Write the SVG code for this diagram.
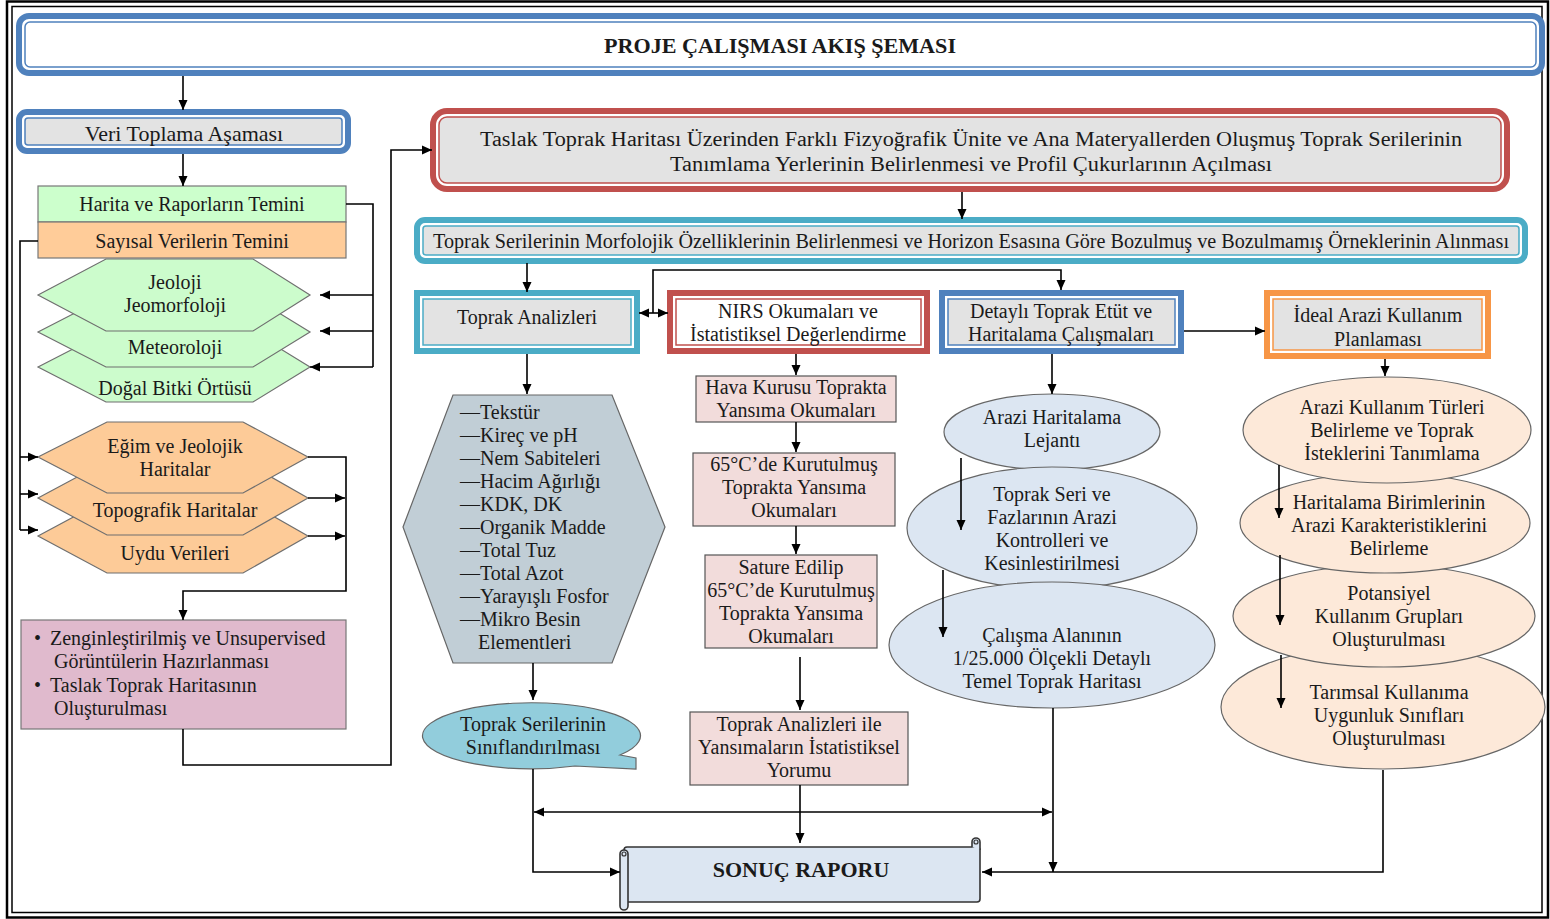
<svg xmlns="http://www.w3.org/2000/svg" width="1550" height="919" viewBox="0 0 1550 919">
<style>
.t{font-family:"Liberation Serif","Times New Roman",serif;font-size:20px;fill:#1a1a1a;text-anchor:middle}
.tl{font-family:"Liberation Serif","Times New Roman",serif;font-size:20px;fill:#1a1a1a;text-anchor:start}
.b{font-weight:bold}
.c{fill:none;stroke:#000;stroke-width:1.6}
.a{marker-end:url(#ah)}
.aa{marker-start:url(#ah);marker-end:url(#ah)}
.ob{fill:#fff;stroke:#4F81BD;stroke-width:6}
.ib{fill:#E3E3E3;stroke:#4F81BD;stroke-width:1.5}
.or{fill:#fff;stroke:#C0504D;stroke-width:6}
.ir{fill:#E3E3E3;stroke:#C0504D;stroke-width:1.5}
.ot{fill:#fff;stroke:#4BACC6;stroke-width:6}
.it{fill:#E3E3E3;stroke:#4BACC6;stroke-width:1.5}
.oo{fill:#fff;stroke:#F79646;stroke-width:6}
.io{fill:#E3E3E3;stroke:#F79646;stroke-width:1.5}
.sh{stroke:#6f6f6f;stroke-width:1.2}
.gh{fill:#CCFCCC}
.oh{fill:#FDCB98}
.pk{fill:#F2DCDB;stroke:#555;stroke-width:1.2}
.be{fill:#DCE6F2;stroke:#666;stroke-width:1.2}
.oe{fill:#FDE9D9;stroke:#666;stroke-width:1.2}
</style>
<defs>
<marker id="ah" viewBox="0 0 10 10" refX="10" refY="5" markerWidth="10" markerHeight="10" markerUnits="userSpaceOnUse" orient="auto-start-reverse"><path d="M0,0.5 L10,5 L0,9.5 Z" fill="#000"/></marker>
</defs>
<rect x="0" y="0" width="1550" height="919" fill="#fff"/>
<g id="frame">
<rect x="7" y="1.5" width="1541" height="916" fill="none" stroke="#000" stroke-width="2.5"/>
<rect x="12" y="6.5" width="1530" height="906" fill="none" stroke="#000" stroke-width="1.5"/>
</g>

<g id="title">
<rect class="ob" x="19" y="16" width="1523" height="57" rx="10"/>
<rect x="25" y="22" width="1511" height="45" rx="5" fill="#fff" stroke="#4F81BD" stroke-width="1.5"/>
<text class="t b" x="780" y="53" textLength="352" lengthAdjust="spacingAndGlyphs">PROJE ÇALIŞMASI AKIŞ ŞEMASI</text>
</g>

<g id="veri">
<rect class="ob" x="19" y="112" width="329" height="39" rx="8"/>
<rect class="ib" x="25" y="118" width="317" height="27" rx="3"/>
<text class="t" x="184" y="141" style="font-size:22px">Veri Toplama Aşaması</text>
</g>

<g id="harita">
<rect x="38" y="186" width="308" height="36" fill="#CCFFCC" stroke="#777" stroke-width="1.2"/>
<text class="t" x="192" y="211">Harita ve Raporların Temini</text>
</g>
<g id="sayisal">
<rect x="38" y="222" width="308" height="36" fill="#FFCC99" stroke="#777" stroke-width="1.2"/>
<text class="t" x="192" y="248">Sayısal Verilerin Temini</text>
</g>

<g id="dogal">
<polygon class="gh sh" points="38,367 106,332 253,332 310,367 253,402 106,402"/>
<text class="t" x="175" y="395">Doğal Bitki Örtüsü</text>
</g>
<g id="meteoroloji">
<polygon class="gh sh" points="38,332 106,297 253,297 310,332 253,367 106,367"/>
<text class="t" x="175" y="354">Meteoroloji</text>
</g>
<g id="jeoloji">
<polygon class="gh sh" points="38,295 106,259 253,259 310,295 253,331 106,331"/>
<text class="t" x="175" y="289">Jeoloji</text>
<text class="t" x="175" y="312">Jeomorfoloji</text>
</g>

<g id="uydu">
<polygon class="oh sh" points="38,536 107,499 243,499 308,536 243,573 107,573"/>
<text class="t" x="175" y="560">Uydu Verileri</text>
</g>
<g id="topografik">
<polygon class="oh sh" points="38,498 107,461 243,461 308,498 243,535 107,535"/>
<text class="t" x="175" y="517">Topografik Haritalar</text>
</g>
<g id="egim">
<polygon class="oh sh" points="38,457 107,422 243,422 308,457 243,493 107,493"/>
<text class="t" x="175" y="453">Eğim ve Jeolojik</text>
<text class="t" x="175" y="476">Haritalar</text>
</g>

<g id="zengin">
<rect x="21" y="620" width="325" height="109" fill="#E0BACD" stroke="#777" stroke-width="1.2"/>
<text class="tl" x="34" y="645">•</text>
<text class="tl" x="50" y="645">Zenginleştirilmiş ve Unsupervised</text>
<text class="tl" x="54" y="668">Görüntülerin Hazırlanması</text>
<text class="tl" x="34" y="692">•</text>
<text class="tl" x="50" y="692">Taslak Toprak Haritasının</text>
<text class="tl" x="54" y="715">Oluşturulması</text>
</g>

<g id="taslak">
<rect class="or" x="433" y="111" width="1074" height="78" rx="14"/>
<rect class="ir" x="439" y="117" width="1062" height="66" rx="8"/>
<text class="t" x="971" y="146" textLength="982" lengthAdjust="spacingAndGlyphs">Taslak Toprak Haritası Üzerinden Farklı Fizyoğrafik Ünite ve Ana Materyallerden Oluşmuş Toprak Serilerinin</text>
<text class="t" x="971" y="171" textLength="602" lengthAdjust="spacingAndGlyphs">Tanımlama Yerlerinin Belirlenmesi ve Profil Çukurlarının Açılması</text>
</g>

<g id="morfoloji">
<rect class="ot" x="417" y="220" width="1108" height="41" rx="8"/>
<rect class="it" x="423" y="226" width="1096" height="29" rx="3"/>
<text class="t" x="971" y="248" textLength="1076" lengthAdjust="spacingAndGlyphs">Toprak Serilerinin Morfolojik Özelliklerinin Belirlenmesi ve Horizon Esasına Göre Bozulmuş ve Bozulmamış Örneklerinin Alınması</text>
</g>

<g id="toprak-analizleri">
<rect class="ot" x="417" y="293" width="220" height="58"/>
<rect class="it" x="423" y="299" width="208" height="46"/>
<text class="t" x="527" y="324">Toprak Analizleri</text>
</g>
<g id="nirs">
<rect class="or" x="670" y="293" width="257" height="58"/>
<rect x="676" y="299" width="245" height="46" fill="#fff" stroke="#C0504D" stroke-width="1.5"/>
<text class="t" x="798" y="318">NIRS Okumaları ve</text>
<text class="t" x="798" y="341">İstatistiksel Değerlendirme</text>
</g>
<g id="detayli">
<rect class="ob" x="942" y="293" width="239" height="58"/>
<rect class="ib" x="948" y="299" width="227" height="46"/>
<text class="t" x="1061" y="318">Detaylı Toprak Etüt ve</text>
<text class="t" x="1061" y="341">Haritalama Çalışmaları</text>
</g>
<g id="ideal">
<rect class="oo" x="1267" y="293" width="221" height="63"/>
<rect class="io" x="1273" y="299" width="209" height="51"/>
<text class="t" x="1378" y="322">İdeal Arazi Kullanım</text>
<text class="t" x="1378" y="346">Planlaması</text>
</g>

<g id="analiz-listesi">
<polygon points="403,527 453,395 612,395 665,527 612,663 453,663" fill="#C1CED6" stroke="#666" stroke-width="1.2"/>
<text class="tl" x="460" y="419">—Tekstür</text>
<text class="tl" x="460" y="442">—Kireç ve pH</text>
<text class="tl" x="460" y="465">—Nem Sabiteleri</text>
<text class="tl" x="460" y="488">—Hacim Ağırlığı</text>
<text class="tl" x="460" y="511">—KDK, DK</text>
<text class="tl" x="460" y="534">—Organik Madde</text>
<text class="tl" x="460" y="557">—Total Tuz</text>
<text class="tl" x="460" y="580">—Total Azot</text>
<text class="tl" x="460" y="603">—Yarayışlı Fosfor</text>
<text class="tl" x="460" y="626">—Mikro Besin</text>
<text class="tl" x="478" y="649">Elementleri</text>
</g>

<g id="siniflandirma">
<path d="M620,755 L636,758 L636,769 L575,766 A109,33 0 1 1 620,755 Z" fill="#92CDDC" stroke="#666" stroke-width="1.2"/>
<text class="t" x="533" y="731">Toprak Serilerinin</text>
<text class="t" x="533" y="754">Sınıflandırılması</text>
</g>

<g id="hava">
<rect class="pk" x="696" y="376" width="200" height="46"/>
<text class="t" x="796" y="394">Hava Kurusu Toprakta</text>
<text class="t" x="796" y="417">Yansıma Okumaları</text>
</g>
<g id="kurutulmus">
<rect class="pk" x="693" y="453" width="202" height="73"/>
<text class="t" x="794" y="471">65°C’de Kurutulmuş</text>
<text class="t" x="794" y="494">Toprakta Yansıma</text>
<text class="t" x="794" y="517">Okumaları</text>
</g>
<g id="sature">
<rect class="pk" x="705" y="555" width="172" height="93"/>
<text class="t" x="791" y="574">Sature Edilip</text>
<text class="t" x="791" y="597">65°C’de Kurutulmuş</text>
<text class="t" x="791" y="620">Toprakta Yansıma</text>
<text class="t" x="791" y="643">Okumaları</text>
</g>
<g id="yorum">
<rect class="pk" x="690" y="712" width="218" height="73"/>
<text class="t" x="799" y="731">Toprak Analizleri ile</text>
<text class="t" x="799" y="754">Yansımaların İstatistiksel</text>
<text class="t" x="799" y="777">Yorumu</text>
</g>

<g id="lejant">
<ellipse class="be" cx="1052" cy="432" rx="108" ry="38"/>
<text class="t" x="1052" y="424">Arazi Haritalama</text>
<text class="t" x="1052" y="447">Lejantı</text>
</g>
<g id="kontrol">
<ellipse class="be" cx="1052" cy="528" rx="145" ry="61"/>
<text class="t" x="1052" y="501">Toprak Seri ve</text>
<text class="t" x="1052" y="524">Fazlarının Arazi</text>
<text class="t" x="1052" y="547">Kontrolleri ve</text>
<text class="t" x="1052" y="570">Kesinlestirilmesi</text>
</g>
<g id="temel-harita">
<ellipse class="be" cx="1052" cy="645" rx="163" ry="63"/>
<text class="t" x="1052" y="642">Çalışma Alanının</text>
<text class="t" x="1052" y="665">1/25.000 Ölçekli Detaylı</text>
<text class="t" x="1052" y="688">Temel Toprak Haritası</text>
</g>

<g id="uygunluk">
<ellipse class="oe" cx="1383" cy="707" rx="162" ry="62"/>
<text class="t" x="1389" y="699">Tarımsal Kullanıma</text>
<text class="t" x="1389" y="722">Uygunluk Sınıfları</text>
<text class="t" x="1389" y="745">Oluşturulması</text>
</g>
<g id="potansiyel">
<ellipse class="oe" cx="1384" cy="616" rx="151" ry="51"/>
<text class="t" x="1389" y="600">Potansiyel</text>
<text class="t" x="1389" y="623">Kullanım Grupları</text>
<text class="t" x="1389" y="646">Oluşturulması</text>
</g>
<g id="karakteristik">
<ellipse class="oe" cx="1385" cy="523" rx="145" ry="50"/>
<text class="t" x="1389" y="509">Haritalama Birimlerinin</text>
<text class="t" x="1389" y="532">Arazi Karakteristiklerini</text>
<text class="t" x="1389" y="555">Belirleme</text>
</g>
<g id="kullanim-turleri">
<ellipse class="oe" cx="1387" cy="430" rx="144" ry="53"/>
<text class="t" x="1392" y="414">Arazi Kullanım Türleri</text>
<text class="t" x="1392" y="437">Belirleme ve Toprak</text>
<text class="t" x="1392" y="460">İsteklerini Tanımlama</text>
</g>

<g id="sonuc">
<rect x="624" y="847" width="356" height="55" rx="3" fill="#DCE6F2" stroke="#333" stroke-width="1.6"/>
<path d="M972,847 V842 a4,4 0 0 1 8,0 V850" fill="#DCE6F2" stroke="#333" stroke-width="1.6"/>
<circle cx="976" cy="842" r="2" fill="none" stroke="#333" stroke-width="1.2"/>
<rect x="620" y="850" width="8" height="60" rx="4" fill="#DCE6F2" stroke="#333" stroke-width="1.6"/>
<circle cx="624" cy="854" r="2" fill="none" stroke="#333" stroke-width="1.2"/>
<text class="t b" x="801" y="877" style="font-size:22px">SONUÇ RAPORU</text>
</g>

<g id="connectors">
<path class="c a" d="M183,76 V110"/>
<path class="c a" d="M183,154 V186"/>
<path class="c" d="M346,204 H373 V367"/>
<path class="c a" d="M373,295 H320"/>
<path class="c a" d="M373,331 H320"/>
<path class="c a" d="M373,367 H310"/>
<path class="c" d="M38,241 H20 V530"/>
<path class="c a" d="M20,457 H38"/>
<path class="c a" d="M20,494 H38"/>
<path class="c a" d="M20,530 H38"/>
<path class="c a" d="M308,457 H346 V591 H183 V620"/>
<path class="c a" d="M308,498 H345"/>
<path class="c a" d="M308,536 H345"/>
<path class="c a" d="M183,729 V765 H391 V150 H432"/>
<path class="c a" d="M962,192 V219"/>
<path class="c a" d="M527,263 V292"/>
<path class="c aa" d="M639,313 H668"/>
<path class="c a" d="M653,313 V270 H1061 V290"/>
<path class="c a" d="M1184,331 H1265"/>
<path class="c a" d="M527,354 V394"/>
<path class="c a" d="M796,354 V375"/>
<path class="c a" d="M796,422 V452"/>
<path class="c a" d="M796,526 V554"/>
<path class="c a" d="M800,657 V710"/>
<path class="c a" d="M800,785 V843"/>
<path class="c a" d="M1052,354 V394"/>
<path class="c a" d="M961,458 V530"/>
<path class="c a" d="M943,570 V637"/>
<path class="c a" d="M1385,359 V376"/>
<path class="c a" d="M1279,465 V518"/>
<path class="c a" d="M1280,555 V625"/>
<path class="c a" d="M1281,655 V708"/>
<path class="c a" d="M533,663 V700"/>
<path class="c a" d="M533,769 V872 H620"/>
<path class="c aa" d="M534,812 H1052"/>
<path class="c a" d="M1053,708 V872"/>
<path class="c a" d="M1383,770 V872 H982"/>
</g>
</svg>
